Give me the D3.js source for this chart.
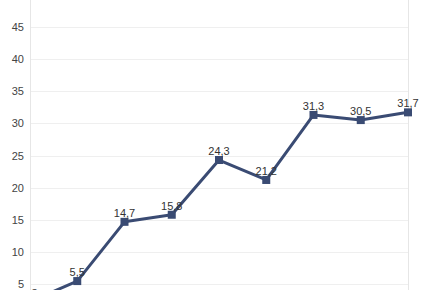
<!DOCTYPE html>
<html>
<head>
<meta charset="utf-8">
<script src="https://cdn.jsdelivr.net/npm/d3@7"></script>
<style>
    body { margin: 0; background: #fff; }
    svg { display: block; }
</style>
</head>
<body>
<svg id="chart" width="435" height="290"></svg>
<script>
var categories = ["1", "2", "3", "4", "5", "6", "7", "8", "9"]
var values = [2.3, 5.5, 14.7, 15.8, 24.3, 21.2, 31.3, 30.5, 31.7]
var yTicks = [5, 10, 15, 20, 25, 30, 35, 40, 45]

var svg = d3.select("#chart")

var x = d3.scalePoint()
    .domain(categories)
    .range([30, 408])

var y = d3.scaleLinear()
    .domain([0, 50])
    .range([316.5, -5.5])

var fmt = d3.formatLocale({decimal: ",", thousands: ".", grouping: [3], currency: ["", ""]}).format(".1f")

// horizontal grid
svg.append("g")
    .selectAll("line")
    .data(yTicks)
    .join("line")
    .attr("x1", 30)
    .attr("x2", 408)
    .attr("y1", function (d) { return Math.round(y(d)) + 0.5 })
    .attr("y2", function (d) { return Math.round(y(d)) + 0.5 })
    .attr("stroke", "#efefef")
    .attr("stroke-width", 1)

// vertical borders at first and last category
svg.append("g")
    .selectAll("line")
    .data([categories[0], categories[categories.length - 1]])
    .join("line")
    .attr("x1", function (d) { return x(d) + 0.5 })
    .attr("x2", function (d) { return x(d) + 0.5 })
    .attr("y1", 0)
    .attr("y2", 290)
    .attr("stroke", "#e6e6e6")
    .attr("stroke-width", 1)

// y axis labels
var yAxis = d3.axisLeft(y).tickValues(yTicks).tickSize(0).tickPadding(0)
var yg = svg.append("g")
    .attr("transform", "translate(24,0)")
    .call(yAxis)
yg.select(".domain").remove()
yg.selectAll("text")
    .attr("font-family", "Liberation Sans, Arial, sans-serif")
    .attr("font-size", 11)
    .attr("fill", "#444")

var pts = categories.map(function (c, i) { return {c: c, v: values[i]} })

svg.append("defs").append("clipPath").attr("id", "plotclip")
    .append("rect").attr("x", 30).attr("y", 0).attr("width", 405).attr("height", 290)

var plot = svg.append("g").attr("clip-path", "url(#plotclip)")

var line = d3.line()
    .x(function (d) { return x(d.c) })
    .y(function (d) { return y(d.v) })

plot.append("path")
    .datum(pts)
    .attr("d", line)
    .attr("fill", "none")
    .attr("stroke", "#3a4b73")
    .attr("stroke-width", 3)
    .attr("stroke-linejoin", "round")

plot.selectAll("rect.marker")
    .data(pts)
    .join("rect")
    .attr("class", "marker")
    .attr("x", function (d) { return x(d.c) - 4 })
    .attr("y", function (d) { return y(d.v) - 4 })
    .attr("width", 8)
    .attr("height", 8)
    .attr("fill", "#3a4b73")

plot.selectAll("text.lbl")
    .data(pts)
    .join("text")
    .attr("class", "lbl")
    .attr("x", function (d) { return x(d.c) })
    .attr("y", function (d) { return y(d.v) - 5 })
    .attr("text-anchor", "middle")
    .attr("font-family", "Liberation Sans, Arial, sans-serif")
    .attr("font-size", 11)
    .attr("fill", "#333")
    .text(function (d) { return fmt(d.v) })
</script>
</body>
</html>
